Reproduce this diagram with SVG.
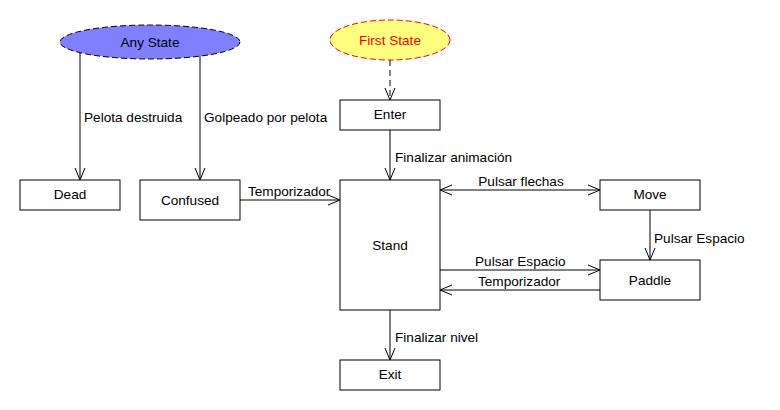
<svg xmlns="http://www.w3.org/2000/svg" width="780" height="410" viewBox="0 0 780 410">
<style>
text{font-family:"Liberation Sans",Arial,sans-serif;font-size:13.6px;fill:#000}
.box{fill:#fff;stroke:#000;stroke-width:1}
.c{text-anchor:middle;dominant-baseline:central}
.ln{fill:none;stroke:#000;stroke-width:1}
</style>
<defs>
<marker id="arr" markerUnits="userSpaceOnUse" markerWidth="14" markerHeight="12" viewBox="-13 -6 14 12" refX="0" refY="0" orient="auto-start-reverse">
<path d="M-12,-5 L0,0 L-12,5" fill="none" stroke="#000" stroke-width="1"/>
</marker>
</defs>
<rect width="780" height="410" fill="#fff"/>
<g id="connectors">
<line class="ln" x1="80" y1="52" x2="80" y2="180" marker-end="url(#arr)"/>
<line class="ln" x1="200" y1="52" x2="200" y2="180" marker-end="url(#arr)"/>
<line class="ln" x1="390" y1="60" x2="390" y2="100" stroke-dasharray="6,4" marker-end="url(#arr)"/>
<line class="ln" x1="390" y1="130" x2="390" y2="180" marker-end="url(#arr)"/>
<line class="ln" x1="240" y1="200" x2="340" y2="200" marker-end="url(#arr)"/>
<line class="ln" x1="440" y1="190" x2="600" y2="190" marker-start="url(#arr)" marker-end="url(#arr)"/>
<line class="ln" x1="650" y1="210" x2="650" y2="260" marker-end="url(#arr)"/>
<line class="ln" x1="440" y1="270" x2="600" y2="270" marker-end="url(#arr)"/>
<line class="ln" x1="600" y1="290" x2="440" y2="290" marker-end="url(#arr)"/>
<line class="ln" x1="390" y1="310" x2="390" y2="360" marker-end="url(#arr)"/>
<text x="84" y="122">Pelota destruida</text>
<text x="204" y="122">Golpeado por pelota</text>
<text x="395" y="162">Finalizar animación</text>
<text x="248" y="196">Temporizador</text>
<text x="521" y="186" text-anchor="middle">Pulsar flechas</text>
<text x="654" y="243">Pulsar Espacio</text>
<text x="475" y="266">Pulsar Espacio</text>
<text x="478" y="286">Temporizador</text>
<text x="395" y="342">Finalizar nivel</text>
</g>
<g id="any-state">
<ellipse cx="150" cy="42" rx="90" ry="17" fill="#8080ff" stroke="#000" stroke-dasharray="6,3"/>
<text class="c" x="150" y="42">Any State</text>
</g>
<g id="first-state">
<ellipse cx="390" cy="40" rx="60" ry="20" fill="#ffff80" stroke="#ff0000" stroke-dasharray="6,3"/>
<text class="c" x="390" y="40" style="fill:#ff0000">First State</text>
</g>
<g id="enter"><rect class="box" x="340" y="100" width="100" height="30"/><text class="c" x="390" y="114">Enter</text></g>
<g id="dead"><rect class="box" x="20" y="180" width="100" height="30"/><text class="c" x="70" y="194">Dead</text></g>
<g id="confused"><rect class="box" x="140" y="180" width="100" height="40"/><text class="c" x="190" y="200">Confused</text></g>
<g id="stand"><rect class="box" x="340" y="180" width="100" height="130"/><text class="c" x="390" y="245">Stand</text></g>
<g id="move"><rect class="box" x="600" y="180" width="100" height="30"/><text class="c" x="650" y="194">Move</text></g>
<g id="paddle"><rect class="box" x="600" y="260" width="100" height="40"/><text class="c" x="650" y="280">Paddle</text></g>
<g id="exit"><rect class="box" x="340" y="360" width="100" height="30"/><text class="c" x="390" y="374">Exit</text></g>
</svg>
